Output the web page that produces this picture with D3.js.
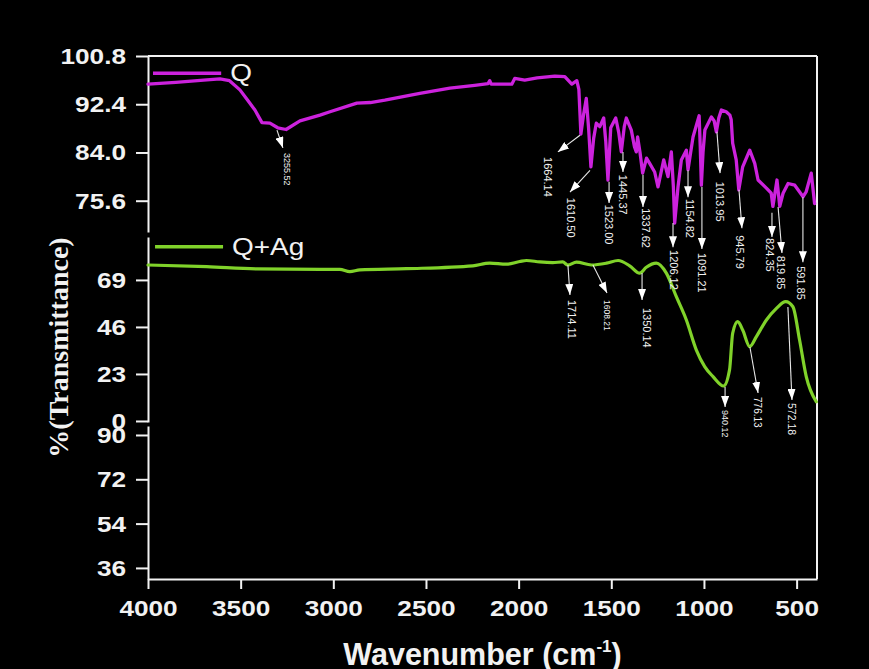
<!DOCTYPE html>
<html><head><meta charset="utf-8">
<script src="https://cdn.jsdelivr.net/npm/d3@7"></script>
<style>
html,body{margin:0;padding:0;background:#000;}
svg{display:block;}
</style></head>
<body>
<svg id="chart" width="869" height="669"></svg>
<script>
// ---------- DATA ----------
const seriesNames = ["Q", "Q+Ag"];
// Q spectrum: [wavenumber cm-1, %T]
const qSpectrum = [
 [4000,95.9],[3850,96.2],[3700,96.6],[3612,96.8],[3560,96.5],[3504,94.9],[3460,93.0],[3423,91.4],
 [3385,89.2],[3342,89.1],[3300,88.3],[3255,88.0],[3180,89.5],[3072,90.5],[3018,91.1],[2873,92.6],
 [2800,92.7],[2722,93.1],[2533,94.3],[2371,95.2],[2237,95.7],[2165,96.0],[2156,96.5],[2148,95.9],
 [2102,95.9],[2037,95.9],[2021,96.9],[1967,96.6],[1900,97.0],[1805,97.3],[1751,97.2],[1713,95.9],
 [1686,96.5],[1675,95.0],[1664,87.2],[1650,90.5],[1635,93.4],[1622,88.0],[1610,81.5],[1595,86.5],
 [1581,89.1],[1562,88.5],[1541,90.0],[1530,86.0],[1518,79.2],[1503,88.3],[1476,90.0],[1460,87.5],
 [1446,84.1],[1430,88.5],[1419,90.0],[1392,87.9],[1375,85.0],[1365,84.1],[1358,86.7],[1345,84.0],
 [1331,80.4],[1310,83.0],[1293,82.1],[1266,80.6],[1248,78.0],[1217,82.7],[1194,79.8],[1176,84.1],
 [1165,78.0],[1158,71.7],[1140,78.0],[1122,82.7],[1095,84.4],[1086,81.0],[1059,86.7],[1026,90.4],
 [1020,85.0],[1014,78.3],[1005,84.0],[995,87.9],[960,90.2],[945,89.5],[933,87.6],[920,90.0],
 [906,91.4],[880,91.1],[860,90.5],[853,89.7],[845,85.6],[826,82.7],[812,77.5],[791,81.5],
 [753,84.4],[726,82.1],[708,79.2],[663,77.8],[637,76.9],[628,74.6],[606,79.2],[591,74.6],
 [573,76.9],[546,78.6],[510,78.3],[465,76.3],[448,77.2],[421,80.4],[403,75.1]
];
// Q+Ag spectrum
const qAgSpectrum = [
 [4000,76.3],[3683,75.5],[3414,74.4],[3056,74.2],[2965,74.2],[2911,73.1],[2857,73.9],[2605,74.5],
 [2247,75.9],[2156,77.2],[2066,76.7],[1994,78.0],[1958,78.5],[1886,77.8],[1816,77.5],[1762,77.8],
 [1735,76.3],[1688,77.7],[1607,76.3],[1526,77.2],[1463,78.5],[1401,75.9],[1347,72.3],[1311,75.2],
 [1257,77.2],[1203,72.3],[1149,60.8],[1095,49.4],[1041,34.7],[996,26.6],[951,21.7],[894,17.1],
 [862,25.0],[845,42.9],[818,48.6],[791,44.5],[753,36.4],[717,41.3],[663,49.4],[609,55.1],
 [559,58.4],[520,55.9],[484,39.6],[448,21.7],[394,9.4]
];
// tick labels
const xTicks = [4000,3500,3000,2500,2000,1500,1000,500];
const yTicksTop = [75.6,84.0,92.4,100.8];
const yTicksMid = [0,23,46,69];
const yTicksBot = [36,54,72,90];
// peak annotations (data coordinates: [wavenumber, %T])
const qPeaks = [
 {label:"1664.14", from:[1669,87.0], to:[1788,84.1], text:[1842,83.2], size:11},
 {label:"1610.50", from:[1615,80.9], to:[1723,77.1], text:[1718,76.1], size:11},
 {label:"1523.00", from:[1512,78.9], to:[1512,75.2], text:[1512,74.9], size:11},
 {label:"1445.37", from:[1437,84.1], to:[1437,80.6], text:[1437,80.1], size:11},
 {label:"1337.62", from:[1329,80.1], to:[1329,74.5], text:[1313,74.3], size:11},
 {label:"1206.12", from:[1167,71.7], to:[1167,67.5], text:[1162,67.0], size:11},
 {label:"1154.82", from:[1086,80.9], to:[1086,76.2], text:[1075,75.9], size:11},
 {label:"1091.21", from:[1011,78.0], to:[1011,67.2], text:[1011,66.5], size:11},
 {label:"1013.95", from:[930,87.6], to:[913,80.4], text:[913,78.9], size:11},
 {label:"945.79", from:[811,77.5], to:[795,70.8], text:[806,69.6], size:11},
 {label:"824.35", from:[633,73.5], to:[633,69.3], text:[644,69.1], size:11},
 {label:"819.85", from:[600,74.5], to:[579,66.5], text:[584,66.0], size:11},
 {label:"591.85", from:[466,76.2], to:[466,64.9], text:[476,64.2], size:11},
 {label:"3255.52", from:[3304,87.9], to:[3272,84.8], text:[3250,83.9], size:9}
];
const qAgPeaks = [
 {label:"1714.11", from:[1734,76.3], to:[1723,61.6], text:[1712,59.2], size:11},
 {label:"1608.21", from:[1599,76.3], to:[1523,62.6], text:[1523,59.2], size:8.5},
 {label:"1350.14", from:[1334,72.4], to:[1334,59.2], text:[1307,55.3], size:11},
 {label:"940.12", from:[886,16.6], to:[886,6.8], text:[886,5.4], size:9},
 {label:"776.13", from:[752,36.2], to:[708,13.7], text:[708,11.7], size:10},
 {label:"572.18", from:[547,55.8], to:[525,10.3], text:[525,8.8], size:10.5}
];

// ---------- LAYOUT ----------
const SX = 1.19; // horizontal stretch of the reference's text
const colQ = "#cc22dd", colQAg = "#80d22a", fg = "#f2f2f2";
const svg = d3.select("#chart");
svg.append("rect").attr("width",869).attr("height",669).attr("fill","#000");

const x = d3.scaleLinear().domain([4000,390]).range([148,817]);
const yTop = d3.scaleLinear().domain([70.15,100.8]).range([232,56]);
const yMid = d3.scaleLinear().domain([-0.5,90]).range([422,237]);
const yBot = d3.scaleLinear().domain([31.5,93.65]).range([579,426]);

const defs = svg.append("defs");
defs.append("marker").attr("id","ah").attr("markerUnits","userSpaceOnUse")
  .attr("markerWidth",11).attr("markerHeight",8).attr("refX",11).attr("refY",4)
  .attr("orient","auto")
  .append("path").attr("d","M0,0 L11,4 L0,8 Z").attr("fill","#fff");

// frame (top + right)
const xr = x.range();
svg.append("line").attr("x1",xr[0]).attr("x2",xr[1]).attr("y1",yTop.range()[1]).attr("y2",yTop.range()[1])
  .attr("stroke",fg).attr("stroke-width",2);
svg.append("line").attr("x1",xr[1]).attr("x2",xr[1]).attr("y1",yTop.range()[1]).attr("y2",yBot.range()[0])
  .attr("stroke",fg).attr("stroke-width",2);

function styleAxis(g){
  g.selectAll(".domain").attr("stroke",fg).attr("stroke-width",2);
  g.selectAll(".tick line").attr("stroke",fg).attr("stroke-width",2);
  g.selectAll(".tick text").attr("fill",fg).attr("font-family","'Liberation Sans',Arial,sans-serif")
    .attr("font-weight","bold").attr("font-size",22);
}
function leftAxis(scale, ticks, fmt){
  const g = svg.append("g").attr("transform",`translate(${xr[0]},0)`)
    .call(d3.axisLeft(scale).tickValues(ticks).tickFormat(fmt).tickSize(12).tickSizeOuter(0));
  styleAxis(g);
  g.selectAll(".tick text").attr("x",-22/SX).attr("dy","0.34em").attr("transform",`scale(${SX},1)`);
}
leftAxis(yTop, yTicksTop, d3.format(".1f"));
leftAxis(yMid, yTicksMid, d3.format("d"));
leftAxis(yBot, yTicksBot, d3.format("d"));

const gx = svg.append("g").attr("transform",`translate(0,${yBot.range()[0]})`)
  .call(d3.axisBottom(x).tickValues(xTicks).tickFormat(d3.format("d")).tickSize(10).tickSizeOuter(0));
styleAxis(gx);
gx.selectAll(".tick text").attr("y",21).attr("dy","0.71em").attr("transform",`scale(${SX},1)`);

// spectra
const lineTop = d3.line().x(d=>x(d[0])).y(d=>yTop(d[1])).curve(d3.curveLinear);
const lineMid = d3.line().x(d=>x(d[0])).y(d=>yMid(d[1])).curve(d3.curveMonotoneX);
svg.append("path").datum(qSpectrum).attr("d",lineTop).attr("fill","none")
  .attr("stroke",colQ).attr("stroke-width",3.3).attr("stroke-linejoin","round").attr("stroke-linecap","round");
svg.append("path").datum(qAgSpectrum).attr("d",lineMid).attr("fill","none")
  .attr("stroke",colQAg).attr("stroke-width",3.2).attr("stroke-linejoin","round").attr("stroke-linecap","round");

// annotations
function annotate(list, yS){
  const g = svg.append("g");
  list.forEach(a=>{
    g.append("line").attr("x1",x(a.from[0])).attr("y1",yS(a.from[1]))
      .attr("x2",x(a.to[0])).attr("y2",yS(a.to[1]))
      .attr("stroke","#e8e8e8").attr("stroke-width",1.1).attr("marker-end","url(#ah)");
    g.append("text").attr("transform",`translate(${x(a.text[0])},${yS(a.text[1])}) rotate(90)`)
      .attr("dy","0.36em").attr("fill",fg)
      .attr("font-family","'Liberation Sans',Arial,sans-serif").attr("font-size",a.size)
      .text(a.label);
  });
}
annotate(qPeaks, yTop);
annotate(qAgPeaks, yMid);

// legends
function legend(name, col, yS, val, w0, w1){
  const yy = yS(val);
  svg.append("line").attr("x1",x(w0)).attr("x2",x(w1)).attr("y1",yy).attr("y2",yy)
    .attr("stroke",col).attr("stroke-width",3.5);
  svg.append("text").attr("transform",`translate(${x(w1)+9},${yy+8}) scale(${SX},1)`)
    .attr("fill",fg).attr("font-family","'Liberation Sans',Arial,sans-serif").attr("font-size",23.5)
    .text(name);
}
legend(seriesNames[0], colQ, yTop, 97.8, 3973, 3605);
legend(seriesNames[1], colQAg, yMid, 85.2, 3962, 3595);

// axis titles
svg.append("text").attr("transform",`translate(68,${(yTop.range()[1]+yBot.range()[0])/2+30}) rotate(-90)`)
  .attr("text-anchor","middle").attr("fill",fg)
  .attr("font-family","'Liberation Serif','Times New Roman',serif").attr("font-weight","bold")
  .attr("font-size",28).text("%(Transmittance)");
const xt = svg.append("text").attr("x",(xr[0]+xr[1])/2).attr("y",665).attr("text-anchor","middle")
  .attr("fill",fg).attr("font-family","'Liberation Sans',Arial,sans-serif").attr("font-weight","bold")
  .attr("font-size",30.5);
xt.append("tspan").text("Wavenumber (cm");
xt.append("tspan").attr("dy",-13).attr("font-size",17).text("-1");
xt.append("tspan").attr("dy",13).text(")");
</script>
</body></html>
